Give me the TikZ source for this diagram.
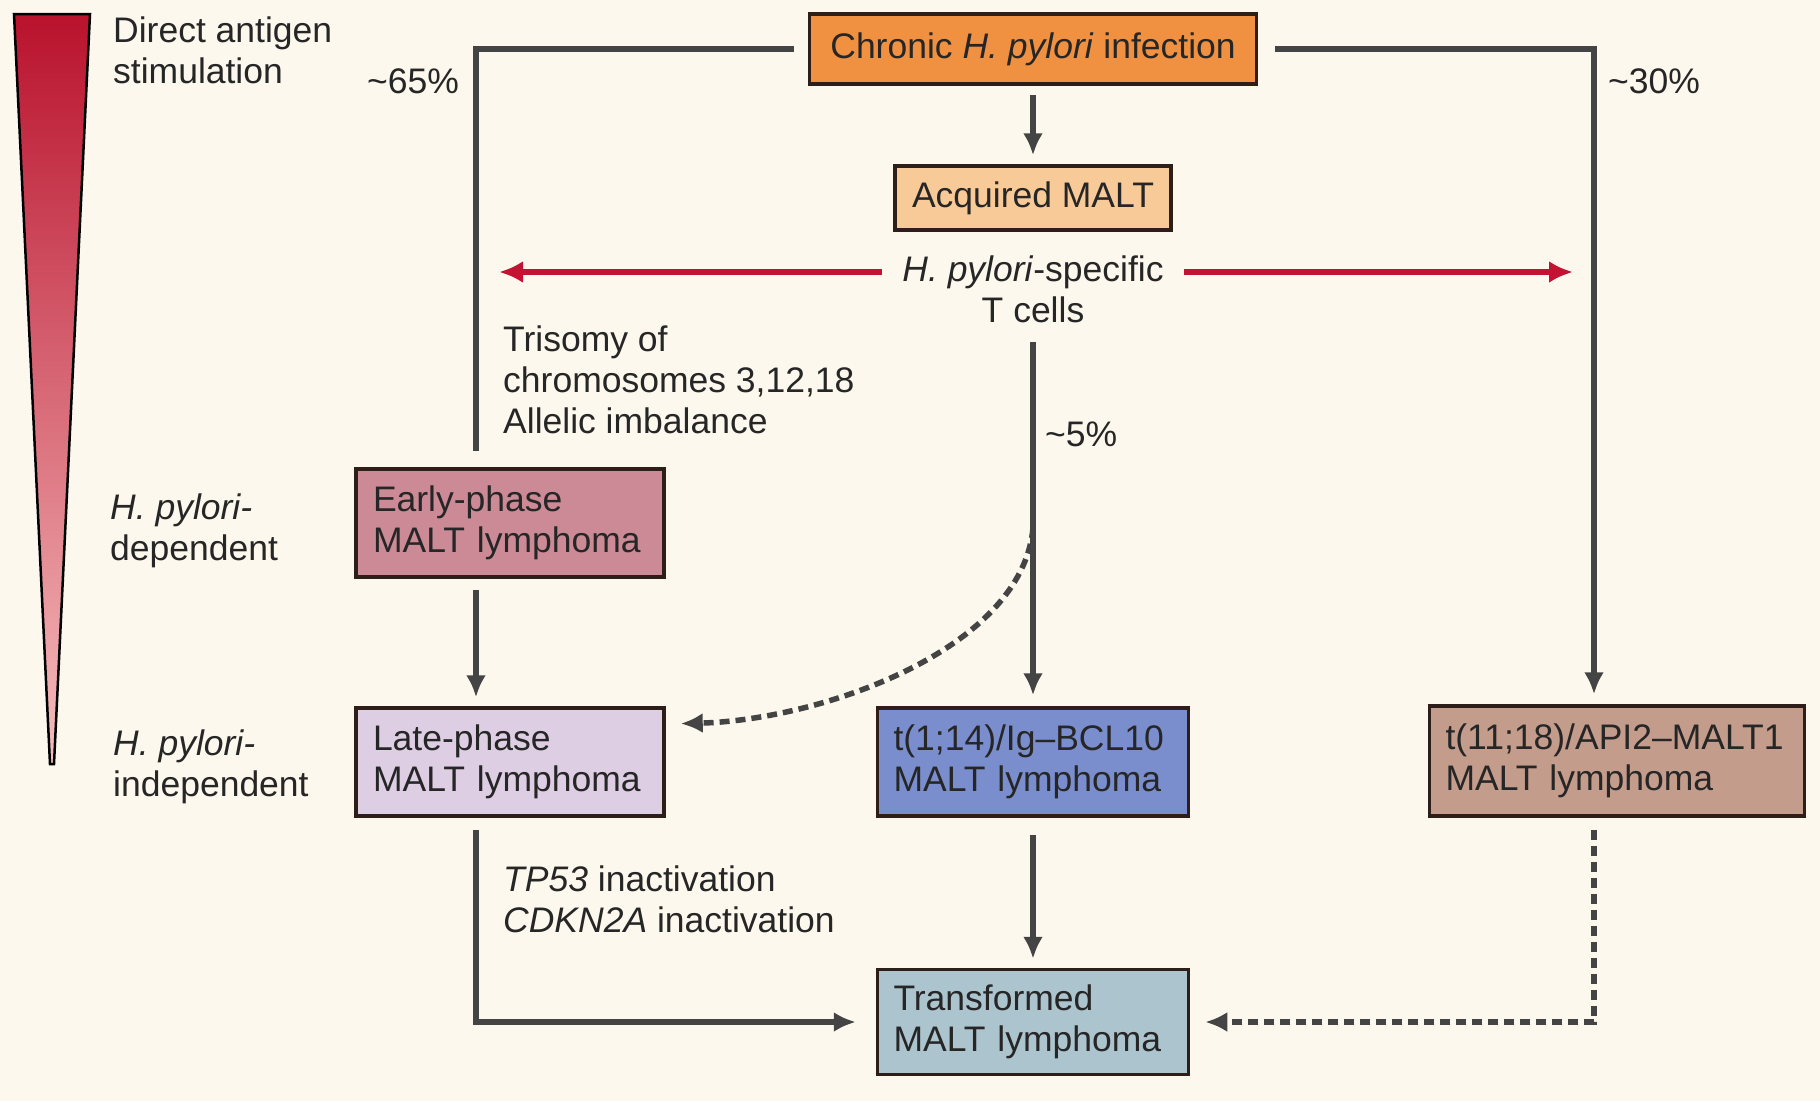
\documentclass[tikz,border=0pt]{standalone}
\usepackage{fontspec}
\setmainfont{Liberation Sans}
\usetikzlibrary{arrows.meta}
\definecolor{bg}{RGB}{253,248,237}
\definecolor{lineg}{RGB}{68,68,68}
\definecolor{boxline}{RGB}{45,30,25}
\definecolor{redc}{RGB}{195,18,50}
\definecolor{orangec}{RGB}{240,145,65}
\definecolor{peach}{RGB}{248,202,152}
\definecolor{rose}{RGB}{203,138,150}
\definecolor{lilac}{RGB}{222,206,228}
\definecolor{bluec}{RGB}{122,142,205}
\definecolor{brownc}{RGB}{196,156,140}
\definecolor{greyblue}{RGB}{172,196,206}
\definecolor{wedgeTop}{RGB}{185,18,45}
\definecolor{wedgeMid}{RGB}{215,80,95}
\definecolor{wedgeBot}{RGB}{246,190,190}
\begin{document}
\begin{tikzpicture}[x=1pt,y=-1pt,
  every node/.style={font=\fontsize{35.5}{41}\selectfont, text=black!85},
  box/.style={draw=boxline, line width=3.5pt, inner xsep=17pt, inner ysep=0pt, align=left},
  conn/.style={draw=lineg, line width=5.5pt},
  arr/.style={conn, -{Latex[length=22pt,width=20pt]}},
  redarr/.style={draw=redc, line width=6pt, -{Latex[length=24pt,width=22pt]}},
  dasharr/.style={conn, dash pattern=on 10pt off 6pt, -{Latex[length=22pt,width=20pt]}},
  lbl/.style={inner sep=0pt, align=left, anchor=west}]
\fill[bg] (0,0) rectangle (1820,1101);
\useasboundingbox (0,0) rectangle (1820,1101);

% gradient wedge
\shadedraw[draw=black, line width=2.5pt, top color=wedgeTop, middle color=wedgeMid, bottom color=wedgeBot]
  (14,14) -- (90,14) -- (54,764) -- (50,764) -- cycle;

% boxes
\node[box, fill=orangec, minimum width=447pt, minimum height=70pt, align=center] (chronic) at (1033,49) {Chronic \textit{H. pylori} infection};
\node[box, fill=peach, minimum width=276pt, minimum height=64pt, align=center] (acq) at (1033,198) {Acquired MALT};
\node[inner xsep=20pt, inner ysep=4pt, align=center] (tcells) at (1033,289) {\textit{H. pylori}-specific\\T cells};
\node[box, fill=rose, text width=274pt, minimum height=108pt] (early) at (510,523) {Early-phase\\MALT lymphoma};
\node[box, fill=lilac, text width=274pt, minimum height=108pt] (late) at (510,762) {Late-phase\\MALT lymphoma};
\node[box, fill=bluec, text width=279pt, inner xsep=16pt, minimum height=108pt] (t114) at (1033,762) {t(1;14)/Ig--BCL10\\MALT lymphoma};
\node[box, fill=brownc, text width=343pt, inner xsep=16pt, minimum height=110pt] (api) at (1617,761) {t(11;18)/API2--MALT1\\MALT lymphoma};
\node[box, fill=greyblue, text width=279pt, inner xsep=16pt, minimum height=105pt] (transformed) at (1033,1022) {Transformed\\MALT lymphoma};

% labels
\node[lbl] (direct) at (113,50) {Direct antigen\\stimulation};
\node[lbl] (p65) at (367,81) {\textasciitilde65\%};
\node[lbl] (p30) at (1608,81) {\textasciitilde30\%};
\node[lbl] (p5) at (1045,434) {\textasciitilde5\%};
\node[lbl] (trisomy) at (503,380) {Trisomy of\\chromosomes 3,12,18\\Allelic imbalance};
\node[lbl] (dep) at (110,531) {\textit{H. pylori-}\\dependent};
\node[lbl] (indep) at (113,767) {\textit{H. pylori-}\\independent};
\node[lbl] (tp53) at (503,899) {\textit{TP53} inactivation\\\textit{CDKN2A} inactivation};

% coordinates
\coordinate (colL) at (476,0);
\coordinate (colR) at (1594,0);
\coordinate (redL) at (499,272);
\coordinate (redR) at (1573,272);
\coordinate (dstart) at (1033,528);

% connectors
\draw[conn, shorten <=14pt, shorten >=16pt] (chronic.west) -| (colL |- early.north);
\draw[arr, shorten <=17pt, shorten >=10pt] (chronic.east) -| (colR |- api.north);
\draw[arr, shorten <=9pt, shorten >=9pt] (chronic.south) -- (acq.north);
\draw[redarr] (tcells.west |- redL) -- (redL);
\draw[redarr] (tcells.east |- redR) -- (redR);
\draw[arr, shorten <=15pt, shorten >=11pt] (tcells.south) -- (tcells.south |- t114.north);
\draw[arr, shorten <=17pt, shorten >=9pt] (t114.south) -- (transformed.north);
\draw[arr, shorten <=11pt, shorten >=9pt] (colL |- early.south) -- (colL |- late.north);
\draw[arr, shorten <=12pt, shorten >=20pt] (colL |- late.south) |- (transformed.west);
\draw[dasharr, shorten <=12pt, shorten >=15pt] (colR |- api.south) |- (transformed.east);
\draw[dasharr, shorten >=15pt] (dstart) .. controls (1022,650) and (820,720) .. ([yshift=38pt]late.east);
\end{tikzpicture}
\end{document}
